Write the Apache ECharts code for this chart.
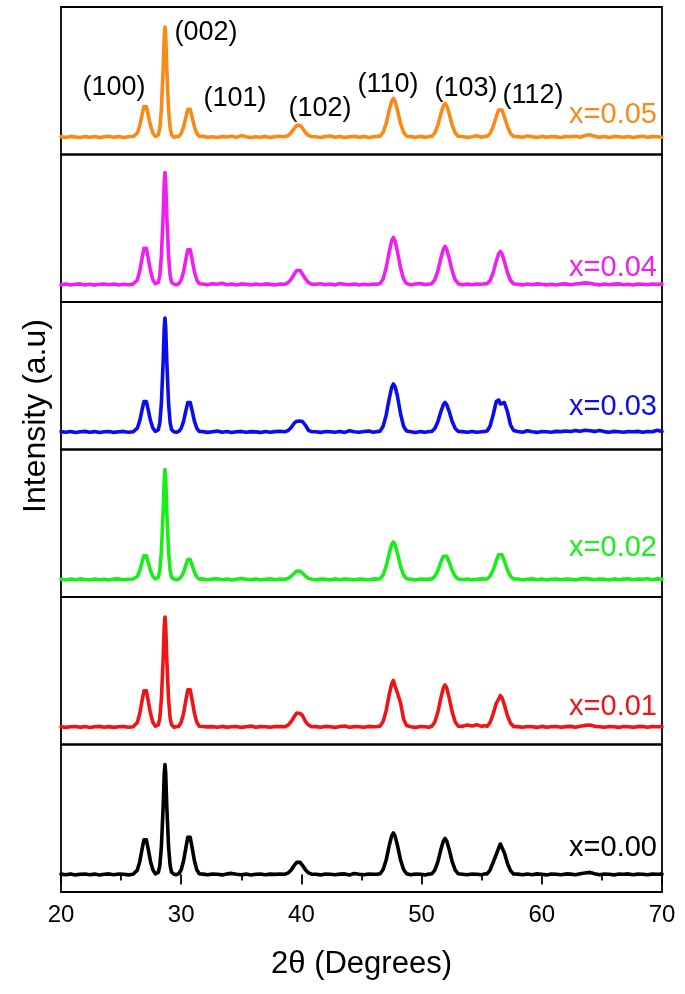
<!DOCTYPE html>
<html>
<head>
<meta charset="utf-8">
<script src="https://cdn.jsdelivr.net/npm/echarts@6/dist/echarts.min.js"></script>
<style>html,body{margin:0;padding:0;background:#fff}#c{width:685px;height:994px}</style>
</head>
<body>
<div id="c"></div>
<script>
// 2theta grid (degrees)
const twoTheta = [
 20.0,20.4,20.8,21.2,21.6,22.0,22.4,22.8,23.2,23.6,24.0,24.4,24.8,25.2,25.6,26.0,
 26.15,26.35,26.55,26.76,26.9,27.0,27.1,27.24,27.45,27.65,27.85,
 28.0,
 28.1,28.22,28.35,28.5,28.59,28.65,28.71,28.8,28.95,29.08,29.2,
 29.4,29.6,
 29.8,30.0,30.2,30.41,30.55,30.65,30.75,30.89,31.1,31.3,31.5,
 31.8,32.2,32.6,33.0,33.4,33.8,34.2,34.6,35.0,35.4,35.8,36.2,36.6,37.0,37.4,37.8,38.2,
 38.65,38.9,39.15,39.41,39.61,39.75,39.89,40.09,40.35,40.6,40.85,
 41.2,41.6,42.0,42.4,42.8,43.2,43.6,44.0,44.4,44.8,45.2,45.6,46.0,46.3,
 46.55,46.8,47.05,47.31,47.51,47.65,47.79,47.99,48.25,48.5,48.75,
 49.1,49.5,49.9,50.3,50.6,
 50.85,51.1,51.35,51.61,51.81,51.95,52.09,52.29,52.55,52.8,53.05,
 53.4,53.8,54.2,54.6,55.0,55.25,
 55.45,55.7,55.95,56.21,56.41,56.55,56.69,56.89,57.15,57.4,57.65,
 58.0,58.4,58.8,59.2,59.6,60.0,60.4,60.8,61.2,61.6,62.0,62.4,62.8,63.2,63.6,64.0,64.4,64.8,65.2,65.6,66.0,66.4,66.8,67.2,67.6,68.0,68.4,68.8,69.2,69.6,70.0
];

const sampleNames = ['x=0.05','x=0.04','x=0.03','x=0.02','x=0.01','x=0.00'];
const sampleColors = ['#FA8A16','#F01EF0','#0C0CEE','#18EE18','#F01414','#000000'];

const int005 = [
 0.3,-0.4,0.6,0,-0.5,0.4,-0.2,0.5,-0.6,0.2,0.7,-0.3,0.4,-0.5,0.2,0.5,
 0.6,3.8,11.2,23.0,30.4,32,30.4,23.0,11.2,3.8,0.6,
 0.2,
 2.2,8.8,27.5,68.2,101.2,110,101.2,68.2,27.5,8.8,2.2,
 -0.3,0.4,
 0.6,3.5,10.2,20.9,27.6,29,27.6,20.9,10.2,3.5,0.6,
 0.6,-0.2,0.3,-0.5,0.4,0,0.7,-0.4,1.4,0.2,-0.5,0.3,-0.2,0.6,-0.4,0.3,0.8,
 0.3,1.5,4.4,8.8,11.6,12.5,11.6,8.8,4.4,1.5,0.3,
 0.2,-0.5,0.4,0.9,-0.3,0.5,-0.4,0.3,0.6,-0.2,0.4,-0.5,0.3,0.6,
 0.8,4.6,13.5,27.0,35.8,38.5,35.8,27.0,13.5,4.6,0.8,
 0.4,-0.3,0.6,-0.2,0.3,
 0.7,4.0,11.7,23.5,31.2,33.5,31.2,23.5,11.7,4.0,0.7,
 0.5,-0.4,0.3,1.2,-0.2,0.6,
 0.6,3.5,10.2,20.3,27.0,29,27.0,20.3,10.2,3.5,0.6,
 0.4,-0.3,1.0,0.2,-0.4,0.6,-0.2,0.5,0.1,-0.5,0.4,0.3,0.8,-0.3,1.5,2.3,0.6,-0.2,0.5,-0.4,0.6,0.2,-0.3,0.5,-0.5,0.3,0.7,-0.3,0.4,0.2,-0.2
];
const int004 = [
 -0.3,0.4,-0.5,0.3,0.6,-0.4,0.2,-0.6,0.3,0.5,-0.2,0.4,-0.5,0.3,-0.2,0.4,
 0.8,4.6,13.3,27.4,36.1,38,36.1,27.4,13.3,4.6,0.8,
 0,
 2.2,9.0,28.0,69.4,103.0,112,103.0,69.4,28.0,9.0,2.2,
 0.3,-0.2,
 0.7,4.4,12.8,26.3,34.7,36.5,34.7,26.3,12.8,4.4,0.7,
 0.5,-0.3,0.8,0.2,1.3,-0.2,0.4,-0.5,0.6,0.2,-0.4,0.5,-0.3,0.6,0.1,-0.4,0.5,
 0.3,1.8,5.3,10.5,14.0,15,14.0,10.5,5.3,1.8,0.3,
 0.3,0.7,-0.3,0.5,-0.4,0.9,0.2,-0.3,0.4,-0.5,0.3,-0.2,0.5,0.3,
 0.9,5.6,16.5,32.9,43.7,47,43.7,32.9,16.5,5.6,0.9,
 -0.2,0.5,1.0,-0.3,0.4,
 0.8,4.6,13.3,26.6,35.3,38,35.3,26.6,13.3,4.6,0.8,
 -0.3,0.4,-0.2,0.5,0.2,0.8,
 0.7,4.0,11.6,23.1,30.7,33,30.7,23.1,11.6,4.0,0.7,
 0.3,-0.4,0.5,-0.2,0.6,0.2,-0.4,0.3,-0.5,0.4,0.6,-0.2,0.5,0.9,1.6,1.1,0.3,-0.4,0.5,-0.3,0.4,0.6,-0.2,0.3,-0.5,0.4,0.2,-0.3,0.5,0.2,0.4
];
const int003 = [
 0.4,-0.3,0.5,-0.5,0.3,0.6,-0.2,0.4,-0.5,0.2,0.5,-0.4,0.3,0.6,-0.3,0.2,
 0.6,3.8,11.2,23.0,30.4,32,30.4,23.0,11.2,3.8,0.6,
 -0.2,
 2.3,9.1,28.5,70.7,104.9,114,104.9,70.7,28.5,9.1,2.3,
 0.2,-0.3,
 0.6,3.7,10.9,22.3,29.5,31,29.5,22.3,10.9,3.7,0.6,
 0.4,-0.4,0.3,0.9,-0.2,0.5,-0.5,0.3,0.6,-0.3,0.4,0.1,-0.4,0.5,-0.2,0.4,0.8,
 0.3,1.5,4.5,9.0,10.8,11,11,10.5,6.5,1.5,0.3,
 0.3,-0.4,0.5,0.2,-0.3,0.6,-0.4,1.2,0.3,-0.2,0.5,0.9,-0.3,0.4,
 0.9,5.8,16.8,33.6,44.6,48,45.5,36,18,5.8,1.0,
 0.3,-0.5,0.4,-0.2,0.5,
 0.6,3.5,10.3,20.7,27.4,29.5,27.4,20.7,10.3,3.5,0.6,
 0.4,-0.3,0.5,-0.2,0.3,0.6,
 1.0,6,17,30.5,32,28,28.5,29.5,20,7,1.5,
 0.5,-0.3,1.3,0.2,-0.4,0.5,0.3,-0.2,0.6,0.4,1.0,0.5,1.4,0.8,1.7,1.2,0.6,1.5,0.4,-0.2,0.6,0.3,-0.3,0.5,0.2,0.6,-0.2,0.5,0.3,1.8,0.4
];
const int002 = [
 0.2,-0.5,0.4,-0.3,0.6,0,-0.4,0.5,-0.2,0.3,-0.5,0.4,0.6,-0.3,0.2,0.5,
 0.5,3.0,8.8,18.0,23.8,25,23.8,18.0,8.8,3.0,0.5,
 0.3,
 2.2,8.8,27.5,68.2,101.2,110,101.2,68.2,27.5,8.8,2.2,
 0.5,-0.2,
 0.4,2.5,7.4,15.1,20.0,21,20.0,15.1,7.4,2.5,0.4,
 0.6,-0.3,0.4,0.8,-0.2,0.5,-0.4,0.3,1.0,0.2,-0.3,0.5,-0.4,0.3,0.6,-0.2,0.5,
 0.2,1.1,3.2,6.3,8.4,9,8.4,6.3,3.2,1.1,0.2,
 -0.3,0.4,0.2,-0.4,0.6,-0.2,0.5,0.3,-0.4,0.5,0.1,-0.3,0.6,0.4,
 0.8,4.5,13.1,26.3,34.9,37.5,34.9,26.3,13.1,4.5,0.8,
 0.3,-0.4,0.5,0.2,0.4,
 0.5,3.0,8.8,17.5,23.3,25,23.3,17.5,8.8,3.0,0.5,
 -0.2,0.5,-0.4,0.3,0.6,0.4,
 0.5,3.2,9.3,18.6,24.6,26.5,24.6,18.6,9.3,3.2,0.5,
 0.5,-0.4,0.3,0.6,-0.2,0.4,-0.5,0.3,0.5,-0.3,0.4,0.2,-0.4,0.6,0.9,0.4,-0.3,0.5,0.2,-0.4,0.6,-0.2,0.4,0.7,-0.3,0.5,0.2,0.8,-0.2,0.6,0.3
];
const int001 = [
 0.3,-0.4,0.2,0.5,-0.3,0.4,-0.5,0.3,0.6,-0.2,0.4,-0.4,0.2,0.5,-0.3,0.3,
 0.8,4.6,13.3,27.4,36.1,38,36.1,27.4,13.3,4.6,0.8,
 0.1,
 2.2,8.8,27.5,68.2,101.2,110,101.2,68.2,27.5,8.8,2.2,
 -0.2,0.3,
 0.8,4.7,13.7,28.1,37.1,39,37.1,28.1,13.7,4.7,0.8,
 0.5,0.1,0.4,-0.3,0.6,-0.2,0.3,0.5,-0.4,0.3,0.9,-0.2,0.4,0.2,-0.3,0.5,0.4,
 0.3,1.8,5.3,10.5,14.0,15,13.5,11.5,5.3,1.8,0.3,
 0.4,-0.3,0.6,0.2,-0.4,0.5,1.0,-0.2,0.4,0.3,-0.3,0.6,0.2,0.5,
 0.9,5.6,16.3,32.6,43.2,46.5,41,34,24,8,1.5,
 0.3,-0.4,0.5,0.2,-0.2,
 0.8,5.0,14.7,29.4,39.1,42,39.1,29.4,14.7,5.0,0.8,
 0.8,2.0,0.9,2.2,0.6,1.4,
 0.6,4.5,13,23.5,28,31.5,29.3,22,11,3.8,0.6,
 0.4,-0.3,0.5,0.2,-0.4,0.6,-0.2,0.3,0.5,-0.3,0.4,0.6,-0.2,0.7,1.6,2.0,0.8,0.3,-0.3,0.5,0.2,-0.4,0.5,0.3,-0.2,0.4,0.6,-0.3,0.5,0.2,0.4
];
const int000 = [
 0.4,-0.3,0.6,-0.4,0.3,0.5,-0.2,0.4,-0.5,0.3,0.6,-0.3,0.5,0.2,-0.4,0.3,
 0.7,4.4,12.8,26.3,34.7,36.5,34.7,26.3,12.8,4.4,0.7,
 0.1,
 2.2,8.8,27.5,68.2,101.2,110,101.2,68.2,27.5,8.8,2.2,
 0.3,-0.2,
 0.8,4.7,13.7,28.1,37.1,39,37.1,28.1,13.7,4.7,0.8,
 0.4,-0.3,0.5,0.2,-0.4,0.6,1.1,0.2,-0.3,0.4,-0.5,0.3,0.5,-0.2,0.4,0.1,0.5,
 0.3,1.6,4.6,9.1,12.1,13,12.1,9.1,4.6,1.6,0.3,
 0.3,-0.4,0.5,0.2,-0.3,0.4,0.6,-0.4,1.0,0.3,-0.2,0.5,0.2,0.4,
 0.8,5.0,14.5,29.1,38.6,41.5,38.6,29.1,14.5,5.0,0.8,
 -0.3,0.5,0.2,-0.4,0.4,
 0.7,4.3,12.6,25.2,33.5,36,33.5,25.2,12.6,4.3,0.7,
 0.3,-0.2,0.5,0.2,-0.3,0.6,
 0.6,4.5,12,20,26.5,30.5,28.5,21.5,10.7,3.7,0.6,
 0.4,-0.3,0.5,-0.2,0.6,0.3,-0.4,0.5,0.2,-0.3,0.6,0.4,-0.2,0.8,1.5,2.1,0.7,-0.2,0.5,0.3,-0.4,0.5,0.2,0.6,-0.3,0.4,0.2,-0.2,0.5,0.3,0.4
];
const intensities = [int005, int004, int003, int002, int001, int000];

const hklLabels = ['(100)','(002)','(101)','(102)','(110)','(103)','(112)'];
const xTickLabels = ['20','30','40','50','60','70'];

// ---- layout ----
const LEFT = 61, RIGHT = 23, TOP = 7, PH = 147.5;
const FONT = '"Liberation Sans", Arial, sans-serif';
const hklPos = [[114,88],[206,33],[235,99],[320,109],[388,85],[466,89],[533,96]];
const sampleLabelY = [115, 268, 407, 548, 707, 848];

intensities.forEach((a,i)=>{ if(a.length!==twoTheta.length) throw new Error('length mismatch '+i+': '+a.length+' vs '+twoTheta.length); });

const grids = [], xAxes = [], yAxes = [], series = [];
for (let i = 0; i < 6; i++) {
  const last = i === 5;
  grids.push({left: LEFT, right: RIGHT, top: TOP + PH*i, height: PH, show: true,
    borderColor: '#000', borderWidth: 1.8, backgroundColor: 'transparent', containLabel: false});
  xAxes.push({
    gridIndex: i, type: 'value', min: 20, max: 70, interval: 10,
    axisLine: {show: false},
    splitLine: {show: false},
    axisTick: {show: last, inside: false, length: 10, lineStyle: {color: '#000', width: 1.8}},
    minorTick: {show: last, splitNumber: 2, length: 6, lineStyle: {color: '#000', width: 1.8}},
    axisLabel: {show: last, margin: 11, fontSize: 24, color: '#000', fontFamily: FONT,
      formatter: v => xTickLabels[Math.round((v-20)/10)] },
    name: last ? '2θ (Degrees)' : '', nameLocation: 'middle', nameGap: 57,
    nameTextStyle: {fontSize: 31, color: '#000', fontFamily: FONT}
  });
  yAxes.push({gridIndex: i, type: 'value', min: -17.5, max: 130, show: false});
  series.push({
    type: 'line', name: sampleNames[i], xAxisIndex: i, yAxisIndex: i,
    data: twoTheta.map((t, j) => [t, intensities[i][j]]),
    symbol: 'none', smooth: false, clip: true,
    lineStyle: {color: sampleColors[i], width: 3.6, join: 'round', cap: 'round'},
    animation: false, silent: true
  });
}

const graphics = [];
hklLabels.forEach((t, k) => graphics.push({type: 'text', x: hklPos[k][0], y: hklPos[k][1], silent: true,
  style: {text: t, font: '27px ' + FONT, fill: '#000', textAlign: 'center', textVerticalAlign: 'middle'}}));
sampleNames.forEach((t, i) => graphics.push({type: 'text', x: 657, y: sampleLabelY[i], silent: true,
  style: {text: t, font: '29px ' + FONT, fill: sampleColors[i], textAlign: 'right', textVerticalAlign: 'middle'}}));
graphics.push({type: 'text', x: 36, y: 416, rotation: Math.PI/2, silent: true,
  style: {text: 'Intensity (a.u)', font: '32px ' + FONT, fill: '#000', textAlign: 'center', textVerticalAlign: 'middle'}});

const chart = echarts.init(document.getElementById('c'), null, {renderer: 'canvas'});
chart.setOption({
  backgroundColor: '#fff', animation: false,
  grid: grids, xAxis: xAxes, yAxis: yAxes, series: series, graphic: graphics
});
</script>
</body>
</html>
